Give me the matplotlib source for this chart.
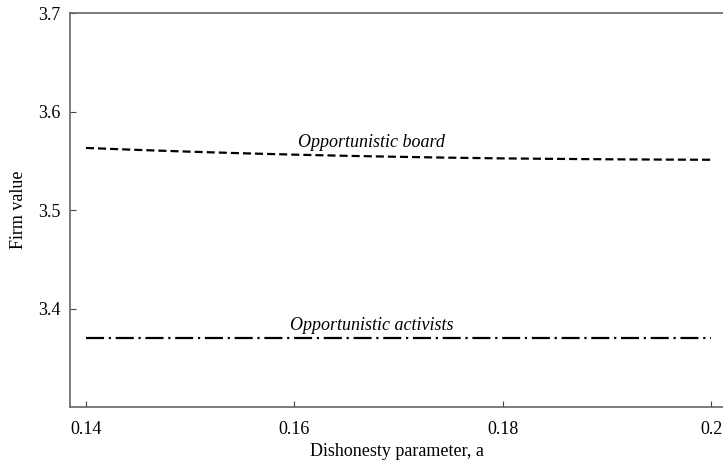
import numpy as np
import matplotlib.pyplot as plt

# dishonesty parameter grid and firm values
a_vals = [0.14, 0.145, 0.15, 0.155, 0.16, 0.165, 0.17, 0.175, 0.18, 0.185, 0.19, 0.195, 0.20]
board_vals = [3.5630, 3.5610, 3.5592, 3.5576, 3.5562, 3.5550, 3.5540, 3.5531, 3.5524,
              3.5519, 3.5515, 3.5512, 3.5510]
activist_vals = [3.370] * 13

xticks = [0.14, 0.16, 0.18, 0.2]
xtick_labels = ['0.14', '0.16', '0.18', '0.2']
yticks = [3.4, 3.5, 3.6, 3.7]
ytick_labels = ['3.4', '3.5', '3.6', '3.7']

plt.rcParams['font.family'] = ['Liberation Serif', 'DejaVu Serif']
plt.rcParams['lines.scale_dashes'] = False

fig = plt.figure(figsize=(7.23, 4.65), dpi=100)
ax = fig.add_axes([70/723, 58/465, 653/723, 394/465])

ax.plot(a_vals, board_vals, color='black', lw=1.6, dashes=(5.8, 2.9))
ax.plot(a_vals, activist_vals, color='black', lw=1.6, dashes=(13, 3.4, 1.6, 3.4))

ax.text(0.1674, 3.5595, 'Opportunistic board', style='italic', fontsize=13,
        ha='center', va='bottom')
ax.text(0.1674, 3.3745, 'Opportunistic activists', style='italic', fontsize=13,
        ha='center', va='bottom')

ax.set_xlim(0.13847, 0.20115)
ax.set_ylim(3.3, 3.7)
ax.set_xticks(xticks)
ax.set_xticklabels(xtick_labels)
ax.set_yticks(yticks)
ax.set_yticklabels(ytick_labels)
ax.tick_params(direction='in', length=4, width=0.8, color='#444444', labelsize=13)
ax.tick_params(axis='x', pad=10)
ax.tick_params(axis='y', pad=7)

for s in ['left', 'bottom', 'top']:
    ax.spines[s].set_color('#666666')
    ax.spines[s].set_linewidth(1.2)
ax.spines['right'].set_visible(False)

ax.set_xlabel('Dishonesty parameter, a', fontsize=13)
ax.xaxis.set_label_coords(0.5, -0.092)
ax.set_ylabel('Firm value', fontsize=13)
ax.yaxis.set_label_coords(-0.066, 0.5)

plt.savefig('out.png', dpi=100)
